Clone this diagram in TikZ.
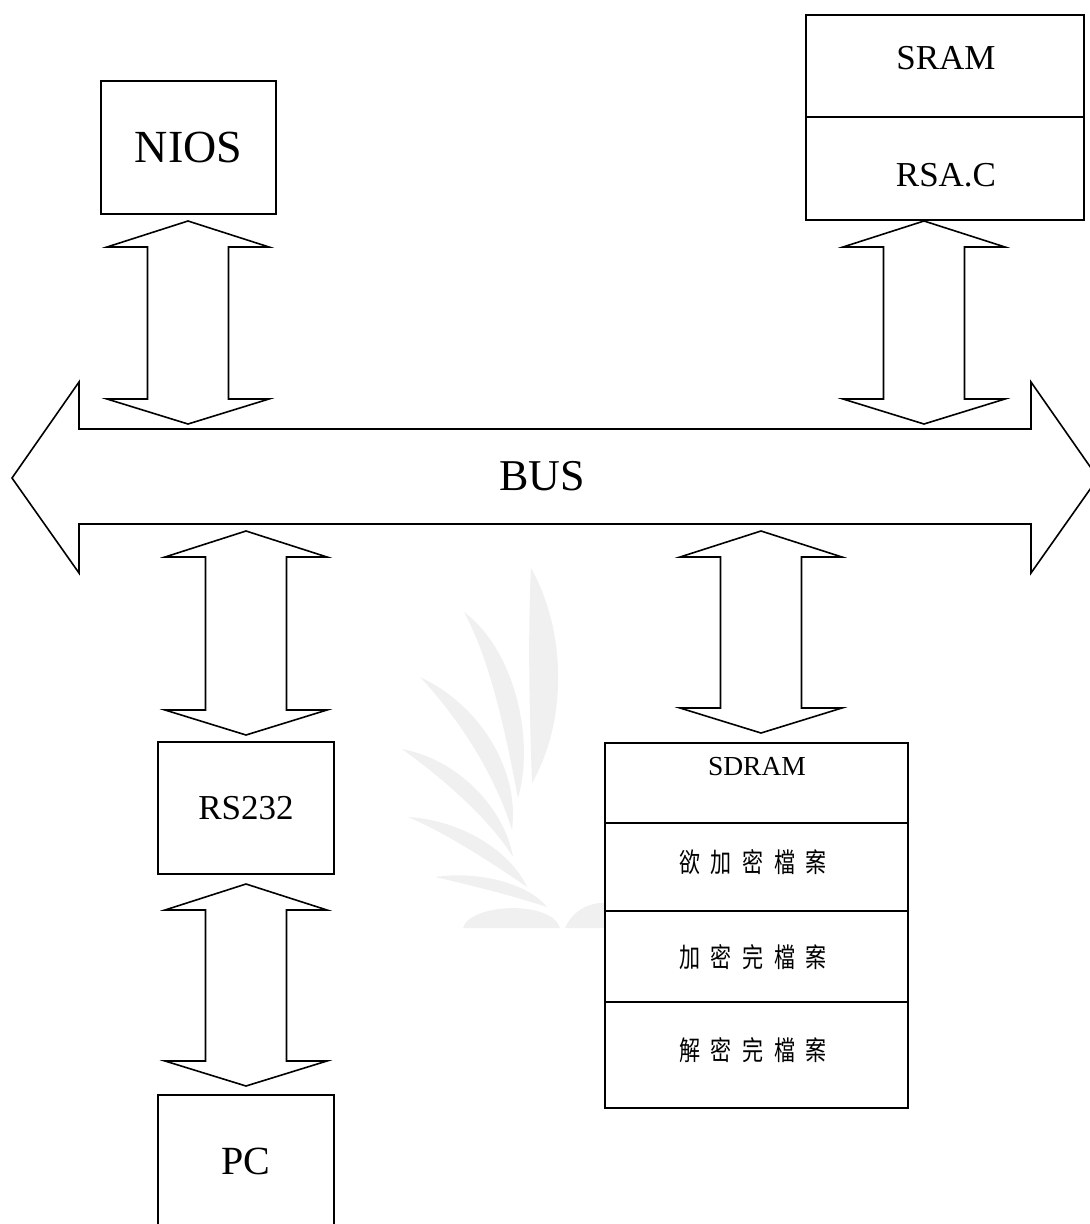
\documentclass[tikz,border=0pt]{standalone}
\usepackage{fontspec}
\setmainfont{Liberation Serif}
\newfontfamily\cjk[FakeStretch=0.78]{Noto Sans CJK TC}
\usetikzlibrary{calc}

\newcommand{\fs}[1]{\fontsize{#1}{#1}\selectfont}
\newcommand{\cjkgap}{\hspace{10.5pt}}

% block arrow with a head at both ends, from top tip #1 to bottom tip #2
\newcommand{\biarrow}[2]{%
  \draw[blockarrow] let \p1=(#1), \p2=(#2) in
    (\p1) -- (\x1+81pt,\y1-26pt) -- (\x1+40.5pt,\y1-26pt)
          -- (\x1+40.5pt,\y2+25pt) -- (\x1+81pt,\y2+25pt) -- (\p2)
          -- (\x1-81pt,\y2+25pt) -- (\x1-40.5pt,\y2+25pt)
          -- (\x1-40.5pt,\y1-26pt) -- (\x1-81pt,\y1-26pt) -- cycle;}

\begin{document}
\begin{tikzpicture}[x=1pt,y=-1pt,
    box/.style={draw=black,fill=white,line width=2pt,inner sep=0pt},
    blockarrow/.style={draw=black,fill=white,line width=1.6pt,line join=miter},
    leaf/.style={fill=black!6,draw=none}]
  \useasboundingbox (0,0) rectangle (1090,1224);

  % watermark
  \fill[leaf] (531,568) .. controls (566,630) and (568,720) .. (532,783)
              .. controls (529,700) and (528,630) .. (531,568) -- cycle;
  \fill[leaf] (464,612) .. controls (515,650) and (535,740) .. (518,798)
              .. controls (505,730) and (490,660) .. (464,612) -- cycle;
  \fill[leaf] (420,677) .. controls (480,705) and (520,770) .. (512,830)
              .. controls (495,775) and (460,720) .. (420,677) -- cycle;
  \fill[leaf] (402,749) .. controls (460,760) and (505,810) .. (513,857)
              .. controls (490,820) and (445,780) .. (402,749) -- cycle;
  \fill[leaf] (408,817) .. controls (460,820) and (510,850) .. (527,887)
              .. controls (495,865) and (450,835) .. (408,817) -- cycle;
  \fill[leaf] (435,877) .. controls (480,870) and (530,885) .. (547,907)
              .. controls (510,895) and (470,885) .. (435,877) -- cycle;
  \fill[leaf] (463,928) .. controls (470,903) and (552,900) .. (560,928) -- cycle;
  \fill[leaf] (565,928) .. controls (575,905) and (598,902) .. (606,903) -- (606,928) -- cycle;

  \node[box,minimum width=175,minimum height=133,font=\fs{46}] (nios) at (188.5,147.5) {NIOS};

  \node[box,minimum width=278,minimum height=102] (sram) at (945,66) {};
  \node[box,minimum width=278,minimum height=103] (rsac) at (945,168.5) {};
  \node[font=\fs{35}] (sramtxt) at (946,58) {SRAM};
  \node[font=\fs{35}] (rsactxt) at (946,175) {RSA.C};

  \node[box,minimum width=176,minimum height=132,font=\fs{35}] (rs232) at (246,808) {RS232};
  \node[box,minimum width=176,minimum height=133,font=\fs{40}] (pc) at (246,1161.5) {PC};

  \node[box,minimum width=303,minimum height=80] (sdram) at (756.5,783) {};
  \node[font=\fs{27.5}] (sdramtxt) at (757,767) {SDRAM};
  \node[box,minimum width=303,minimum height=88] (encin) at (756.5,867) {};
  \node[box,minimum width=303,minimum height=91] (encout) at (756.5,956.5) {};
  \node[box,minimum width=303,minimum height=106] (decout) at (756.5,1055) {};
  \node[font=\cjk\fs{27}] (encintxt) at (753,862)
    {欲\cjkgap 加\cjkgap 密\cjkgap 檔\cjkgap 案};
  \node[font=\cjk\fs{27}] (encouttxt) at (753,957.5)
    {加\cjkgap 密\cjkgap 完\cjkgap 檔\cjkgap 案};
  \node[font=\cjk\fs{27}] (decouttxt) at (753,1050)
    {解\cjkgap 密\cjkgap 完\cjkgap 檔\cjkgap 案};

  % bus
  \coordinate (busL) at (12,478);
  \coordinate (busR) at (1098,478);
  \draw[blockarrow] let \p1=(busL), \p2=(busR) in
    (\p1) -- (\x1+67pt,\y1+96pt) -- (\x1+67pt,\y1+49pt) -- (\x2-67pt,\y1+49pt)
          -- (\x2-67pt,\y1+96pt) -- (\p2) -- (\x2-67pt,\y1-95pt) -- (\x2-67pt,\y1-46pt)
          -- (\x1+67pt,\y1-46pt) -- (\x1+67pt,\y1-95pt) -- cycle;
  \node[font=\fs{44}] (bus) at (542,476) {BUS};

  \coordinate (niosT)  at (188,221);
  \coordinate (niosB)  at (188,424);
  \coordinate (sramT)  at (924,221);
  \coordinate (sramB)  at (924,424);
  \coordinate (rsT)    at (246,531);
  \coordinate (rsB)    at (246,735);
  \coordinate (pcT)    at (246,884);
  \coordinate (pcB)    at (246,1086);
  \coordinate (sdT)    at (761,531);
  \coordinate (sdB)    at (761,733);

  \biarrow{niosT}{niosB}
  \biarrow{sramT}{sramB}
  \biarrow{rsT}{rsB}
  \biarrow{pcT}{pcB}
  \biarrow{sdT}{sdB}
\end{tikzpicture}
\end{document}
